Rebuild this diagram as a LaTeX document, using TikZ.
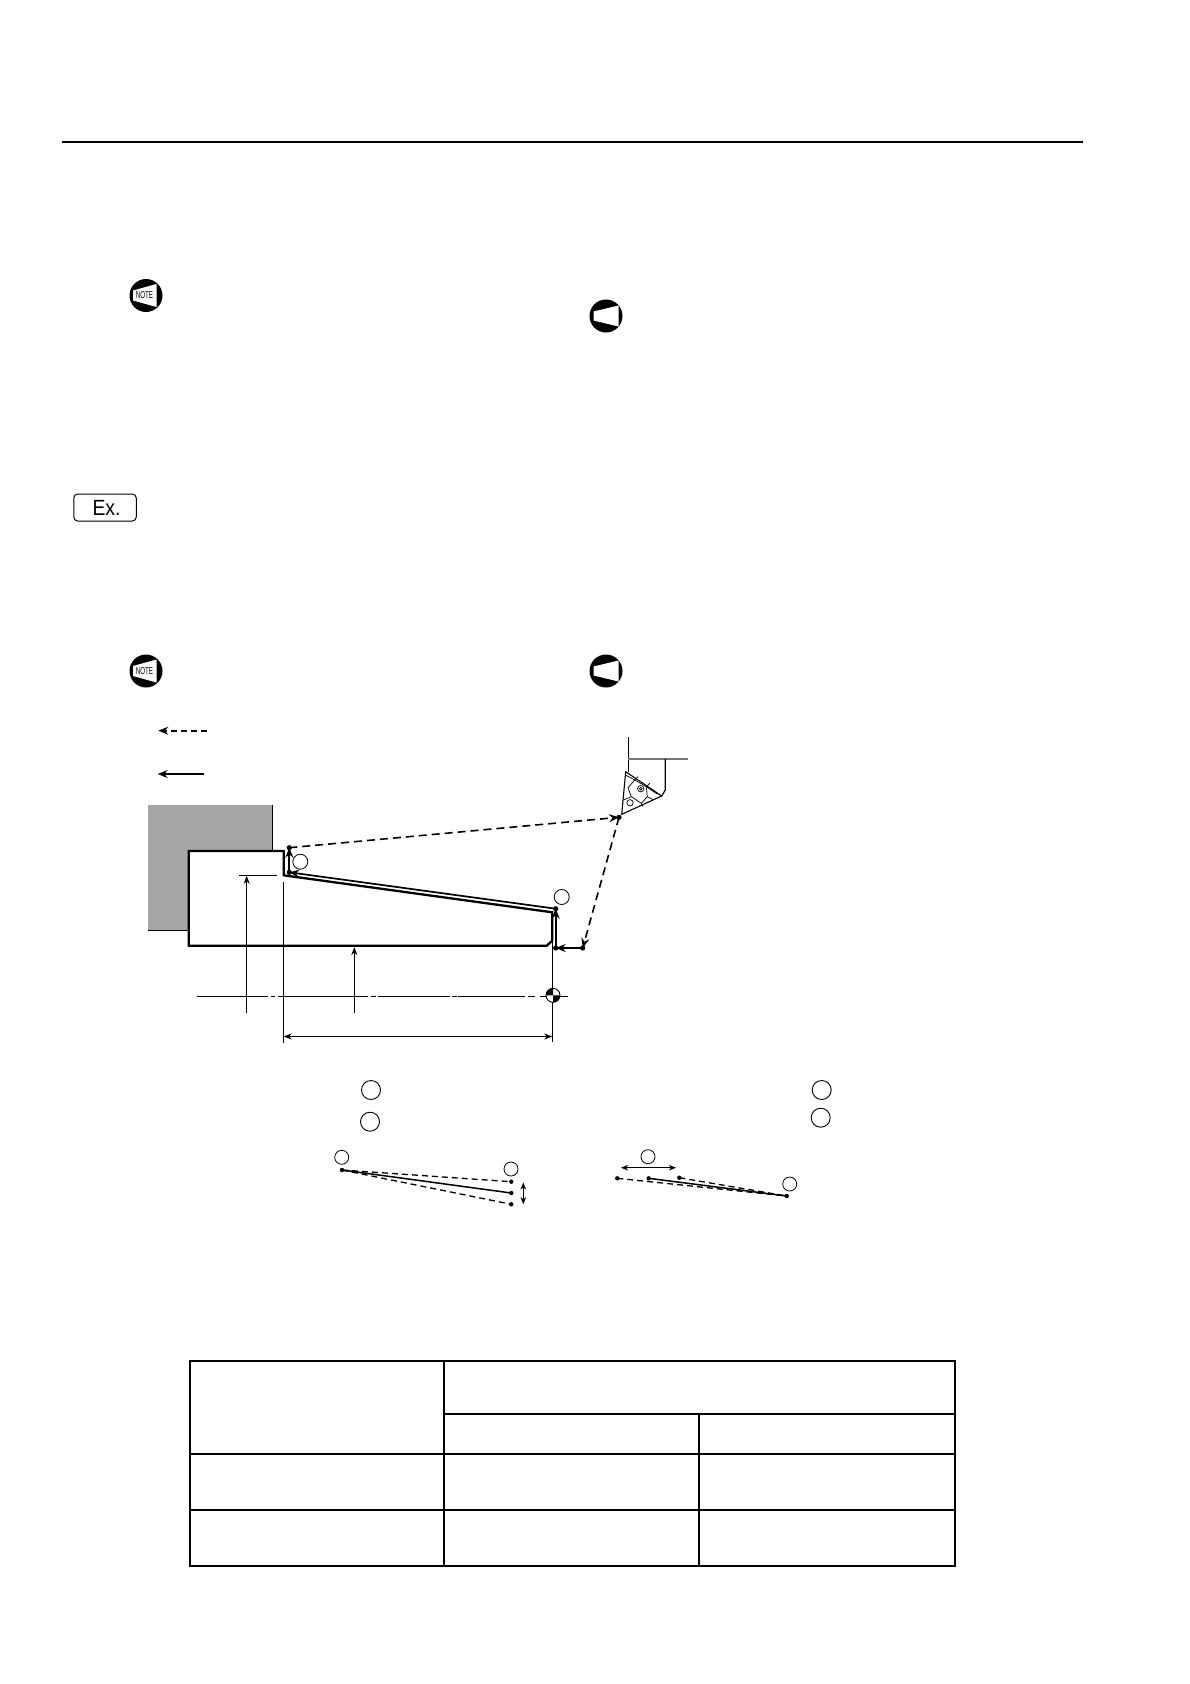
\documentclass[tikz,border=0pt]{standalone}
\usepackage{fontspec}
\setmainfont{Liberation Sans}
\usetikzlibrary{arrows.meta,calc}
\definecolor{wallgray}{HTML}{A6A6A6}
\definecolor{holdergray}{HTML}{777777}
\tikzset{
  thin line/.style={line width=1.15pt,black},
  thick line/.style={line width=2.3pt,black,line join=miter},
  path line/.style={line width=1.7pt,black},
  rapid/.style={line width=1.6pt,black,dash pattern=on 8pt off 5pt},
  legenddash/.style={line width=1.8pt,black,dash pattern=on 6pt off 4pt},
  dimarrow/.style={thin line,-{Stealth[length=8pt,width=6pt,inset=2.5pt]}},
  dimboth/.style={thin line,{Stealth[length=8pt,width=6pt,inset=2.5pt]}-{Stealth[length=8pt,width=6pt,inset=2.5pt]}},
  moveend/.style={-{Stealth[length=10pt,width=8pt,inset=3.5pt]}},
  smallboth/.style={line width=1.2pt,black,{Stealth[length=7pt,width=5.5pt,inset=2pt]}-{Stealth[length=7pt,width=5.5pt,inset=2pt]}},
  balloon/.style={circle,draw=black,line width=.8pt,minimum size=15pt,inner sep=0pt},
  bigballoon/.style={circle,draw=black,line width=.9pt,minimum size=19pt,inner sep=0pt},
  dotpt/.style={circle,fill=black,minimum size=5.2pt,inner sep=0pt},
  smalldot/.style={circle,fill=black,minimum size=4.4pt,inner sep=0pt},
  disc/.style={circle,fill=black,minimum size=33pt,inner sep=0pt},
  hornfill/.style={fill=white,draw=none},
  tablethick/.style={line width=2.2pt,black},
  tablethin/.style={line width=1.2pt,black},
  insertline/.style={line width=.7pt,black},
  sketchdash/.style={line width=1.3pt,black,dash pattern=on 6pt off 4pt},
  sketchline/.style={line width=1.5pt,black},
}
\newcommand{\noteicon}[2]{%
  \node[disc] (#1) at #2 {};
  \fill[hornfill] ($(#1)+(-13,-5)$) -- ($(#1)+(10.5,-11.5)$) -- ($(#1)+(10.5,11.5)$) -- ($(#1)+(-13,5)$) -- cycle;
  \node[inner sep=0pt,font=\fontsize{10}{10}\selectfont] at ($(#1)+(-1.5,0)$) {\scalebox{.62}[1]{NOTE}};
}
\newcommand{\cautionicon}[2]{%
  \node[disc] (#1) at #2 {};
  \fill[hornfill] ($(#1)+(-12.5,-4.5)$) -- ($(#1)+(12.5,-10.5)$) -- ($(#1)+(12.5,10.5)$) -- ($(#1)+(-12.5,4.5)$) -- cycle;
}
\begin{document}
\begin{tikzpicture}[x=1pt,y=-1pt]
\useasboundingbox (0,0) rectangle (1190,1684);
\fill[white] (0,0) rectangle (1190,1684);

% header rule
\coordinate (ruleL) at (62,141.8);
\coordinate (ruleR) at (1083,141.8);
\draw[line width=2pt] (ruleL) -- (ruleR);

% icons
\noteicon{noteA}{(146,295.5)}
\cautionicon{cautA}{(606,316)}
\noteicon{noteB}{(146,671)}
\cautionicon{cautB}{(606,671)}

% Ex. box
\node[draw=black,line width=1pt,rounded corners=4pt,minimum width=62.5pt,minimum height=27pt,inner sep=0pt] (ex) at (105,507.5) {};
\node[inner sep=0pt,font=\fontsize{22}{22}\selectfont] (extext) at (106.5,507.5) {\scalebox{.88}[1]{Ex.}};

% legend
\coordinate (lgA1) at (206.7,730.7);
\coordinate (lgA2) at (158.3,730.7);
\coordinate (lgB1) at (204.3,774);
\coordinate (lgB2) at (157.7,774);
\draw[legenddash,moveend] (lgA1) -- (lgA2);
\draw[path line,moveend] (lgB1) -- (lgB2);

% chuck
\fill[wallgray] (148.3,804.7) rectangle (272.7,930.3);
\draw[thin line] (272.7,804.7) -- (272.7,851);
\draw[thin line] (148.3,930.3) -- (188.7,930.3);

% workpiece
\draw[thick line,fill=white] (188.7,851) -- (283.7,851) -- (283.7,875.3) -- (552.3,912.3)
  -- (552.3,940.7) -- (546.7,945.7) -- (188.7,945.7) -- cycle;

% centre line
\draw[thin line] (197.3,996.3) -- (268.3,996.3);
\draw[thin line] (270.7,996.3) -- (275.3,996.3);
\draw[thin line] (278.3,996.3) -- (368.3,996.3);
\draw[thin line] (370.7,996.3) -- (376,996.3);
\draw[thin line] (378.3,996.3) -- (450,996.3);
\draw[thin line] (451.5,996.3) -- (456.7,996.3);
\draw[thin line] (458.3,996.3) -- (525,996.3);
\draw[thin line] (528.3,996.3) -- (535,996.3);
\draw[thin line] (540,996.3) -- (568.3,996.3);

% dimensions
\coordinate (dA1) at (246.7,1012.7);
\coordinate (dA2) at (246.7,875.8);
\coordinate (dA3) at (239,875.3);
\coordinate (dA4) at (276.7,875.3);
\coordinate (dB1) at (354.3,1012.7);
\coordinate (dB2) at (354.3,947);
\coordinate (eL1) at (283.7,882);
\coordinate (eL2) at (283.7,1043);
\coordinate (eR1) at (552.3,941);
\coordinate (eR2) at (552.3,1042);
\coordinate (dimL) at (283.7,1036.5);
\coordinate (dimR) at (552.3,1036.5);
\draw[dimarrow] (dA1) -- (dA2);
\draw[thin line] (dA3) -- (dA4);
\draw[dimarrow] (dB1) -- (dB2);
\draw[thin line] (eL1) -- (eL2);
\draw[thin line] (eR1) -- (eR2);
\draw[dimboth] (dimL) -- (dimR);

% centre mark
\coordinate (cm) at (553,995.3);
\fill[white] (cm) circle (7pt);
\fill[black] (cm) -- ++(7,0) arc[start angle=0,end angle=-90,radius=7pt] -- cycle;
\fill[black] (cm) -- ++(-7,0) arc[start angle=180,end angle=90,radius=7pt] -- cycle;
\draw[line width=.9pt] (cm) circle (7pt);

% tool
\coordinate (hA) at (628.3,736.7);
\coordinate (hB) at (628.3,771.7);
\coordinate (hC) at (628.3,759);
\coordinate (hD) at (688,759);
\coordinate (hE) at (665.3,759);
\coordinate (hF) at (665.3,790);
\coordinate (hG) at (661.7,796);
\coordinate (tA) at (625.7,771.7);
\coordinate (tB) at (621.7,814.3);
\draw[thin line] (hA) -- (hB);
\draw[line width=1.2pt,holdergray] (hC) -- (hD);
\draw[thin line] (hE) -- (hF) -- (hG);
\draw[line width=1.1pt,line join=round] (tA) -- (tB) -- (hG) -- cycle;
\draw[insertline] (634.7,780) -- (646.3,786.7) -- (647.3,796.7) -- (641.3,803.3) -- (631.3,796.7) -- (628,787.7) -- cycle;
\draw[insertline] (625.5,775) -- (634.7,780);
\draw[insertline] (646.3,786.7) -- (657,794);
\draw[insertline] (631.3,796.7) -- (623.5,800);
\draw[insertline] (641.3,803.3) -- (643,806.5);
\draw[insertline] (647.3,796.7) -- (653,799.5);
\draw[insertline] (634.7,780) -- (638,776.5);
\draw[insertline] (646.3,786.7) -- (650,783);
\draw[insertline] (640.7,788.7) circle (3.2pt);
\draw[insertline] (640.7,788.7) circle (1.4pt);
\draw[insertline,fill=white] (630,802.8) circle (3.2pt);

% tool path
\node[dotpt] (p0) at (619,817.3) {};
\node[dotpt] (p1) at (582.7,948) {};
\node[dotpt] (p2) at (555.7,948) {};
\node[dotpt] (p3) at (555.7,908.7) {};
\node[dotpt] (p4) at (289.3,872.3) {};
\node[dotpt] (p5) at (289.3,847.7) {};
\draw[rapid,moveend] (p0.center) -- (p1.center);
\draw[path line,moveend] (p1.center) -- (p2.center);
\draw[path line,moveend] (p2.center) -- (p3.center);
\draw[path line,moveend] (p3.center) -- (p4.center);
\draw[path line,moveend] (p4.center) -- (p5.center);
\draw[rapid,moveend] (p5.center) -- (p0.center);
\node[balloon] (b1) at (300.3,861.7) {};
\node[balloon] (b2) at (561.7,897) {};

% lower balloons
\node[bigballoon] (c1) at (371,1090) {};
\node[bigballoon] (c2) at (370,1121.7) {};
\node[bigballoon] (c3) at (821.7,1090) {};
\node[bigballoon] (c4) at (820.7,1117.7) {};

% lower left sketch
\node[balloon,minimum size=14pt] (l1) at (341.7,1157.3) {};
\node[balloon,minimum size=14pt] (l2) at (511,1169) {};
\node[smalldot] (la) at (342,1170) {};
\node[smalldot] (lb) at (511.3,1181.7) {};
\node[smalldot] (lc) at (511.3,1193) {};
\node[smalldot] (ld) at (511.3,1204.3) {};
\draw[sketchdash] (la.center) -- (lb.center);
\draw[sketchline] (la.center) -- (lc.center);
\draw[sketchdash] (la.center) -- (ld.center);
\coordinate (la1) at (523.3,1182.5);
\coordinate (la2) at (523.3,1204.2);
\draw[smallboth] (la1) -- (la2);

% lower right sketch
\node[balloon,minimum size=14pt] (r1) at (648,1156.7) {};
\node[balloon,minimum size=14pt] (r2) at (789.7,1184) {};
\node[smalldot] (ra) at (786.7,1196) {};
\node[smalldot] (rb) at (617.3,1178.3) {};
\node[smalldot] (rc) at (648.7,1178.3) {};
\node[smalldot] (rd) at (679.3,1177.7) {};
\draw[sketchdash] (rb.center) -- (ra.center);
\draw[sketchline] (rc.center) -- (ra.center);
\draw[sketchdash] (rd.center) -- (ra.center);
\coordinate (ra1) at (621,1167.7);
\coordinate (ra2) at (676,1167.7);
\draw[smallboth] (ra1) -- (ra2);

% table
\coordinate (tTL) at (190,1361);
\coordinate (tBR) at (955,1566);
\draw[tablethin] (444,1361) -- (444,1566);
\draw[tablethin] (699,1414) -- (699,1566);
\draw[tablethin] (444,1414) -- (955,1414);
\draw[tablethin] (190,1454) -- (955,1454);
\draw[tablethin] (190,1510) -- (955,1510);
\draw[tablethick] (tTL) rectangle (tBR);
\end{tikzpicture}
\end{document}
